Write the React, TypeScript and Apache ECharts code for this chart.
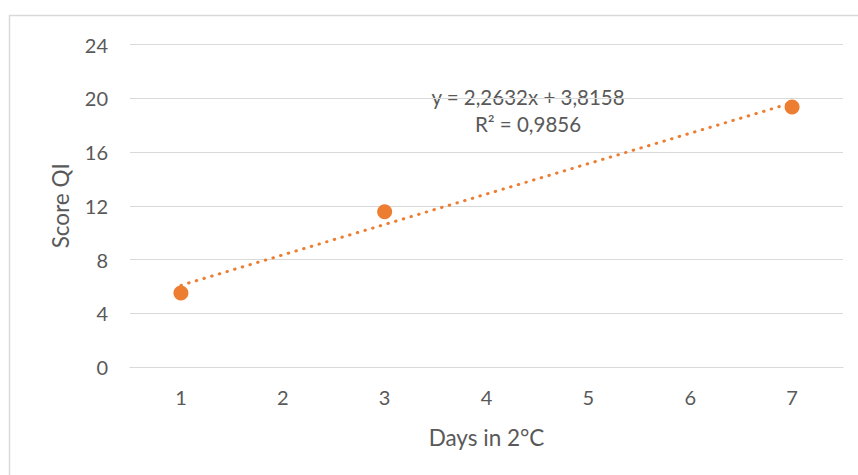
import React, { useEffect, useRef } from "react";
import * as echarts from "echarts";

const xCategories = ["1", "2", "3", "4", "5", "6", "7"];
const pointDays = ["1", "3", "7"];
const pointScores = [5.5, 11.55, 19.35];
const yTicks = [0, 4, 8, 12, 16, 20, 24];
const trendSlope = 2.2632;
const trendIntercept = 3.8158;
const trendDays = ["1", "7"];
const equationLines = ["y = 2,2632x + 3,8158", "R² = 0,9856"];

const FONT = "Lato, 'Open Sans', sans-serif";
const TEXT = "#595959";
const GRID = "#d9d9d9";
const ORANGE = "#ED7D31";

export default function App() {
  const ref = useRef<HTMLDivElement>(null);
  useEffect(() => {
    if (!ref.current) return;
    const chart = echarts.init(ref.current, undefined, { renderer: "svg" });
    const trendData = trendDays.map((d) => [d, trendSlope * Number(d) + trendIntercept]);
    chart.setOption({
      animation: false,
      backgroundColor: "#ffffff",
      textStyle: { fontFamily: FONT },
      grid: { left: 130, right: 15, top: 44.5, bottom: 108, containLabel: false },
      xAxis: {
        type: "category",
        data: xCategories,
        boundaryGap: true,
        name: "Days in 2°C",
        nameLocation: "middle",
        nameGap: 59,
        nameTextStyle: { color: TEXT, fontSize: 22.5, fontFamily: FONT },
        axisLine: { show: true, lineStyle: { color: GRID, width: 1 } },
        axisTick: { show: false },
        axisLabel: { color: TEXT, fontSize: 20, margin: 20, fontFamily: FONT },
        splitLine: { show: false },
      },
      yAxis: {
        type: "value",
        min: yTicks[0],
        max: yTicks[yTicks.length - 1],
        interval: 4,
        name: "Score QI",
        nameLocation: "middle",
        nameGap: 58,
        nameTextStyle: { color: TEXT, fontSize: 22.5, fontFamily: FONT },
        axisLine: { show: false },
        axisTick: { show: false },
        axisLabel: { color: TEXT, fontSize: 20, margin: 22, fontFamily: FONT },
        splitLine: { show: true, lineStyle: { color: GRID, width: 1 } },
      },
      series: [
        {
          type: "line",
          data: trendData,
          symbol: "none",
          lineStyle: { color: ORANGE, width: 3, type: [0.5, 7.5], cap: "round" },
          z: 2,
        },
        {
          type: "scatter",
          data: pointDays.map((d, i) => [d, pointScores[i]]),
          symbol: "circle",
          symbolSize: 15,
          itemStyle: { color: ORANGE, opacity: 1 },
          emphasis: { disabled: true },
          z: 3,
        },
      ],
      graphic: [
        {
          type: "rect",
          shape: { x: 9.5, y: 15.5, width: 900, height: 500 },
          style: { fill: "none", stroke: GRID, lineWidth: 1.5 },
          silent: true,
          z: 0,
        },
        {
          type: "text",
          x: 528,
          y: 97,
          style: {
            text: equationLines[0],
            fill: TEXT,
            font: `20.5px ${FONT}`,
            textAlign: "center",
            textVerticalAlign: "middle",
          },
        },
        {
          type: "text",
          x: 528,
          y: 124,
          style: {
            text: equationLines[1],
            fill: TEXT,
            font: `20.5px ${FONT}`,
            textAlign: "center",
            textVerticalAlign: "middle",
          },
        },
      ],
    });
    return () => chart.dispose();
  }, []);
  return <div ref={ref} style={{ width: 858, height: 475, position: "absolute", left: 0, top: 0 }} />;
}
